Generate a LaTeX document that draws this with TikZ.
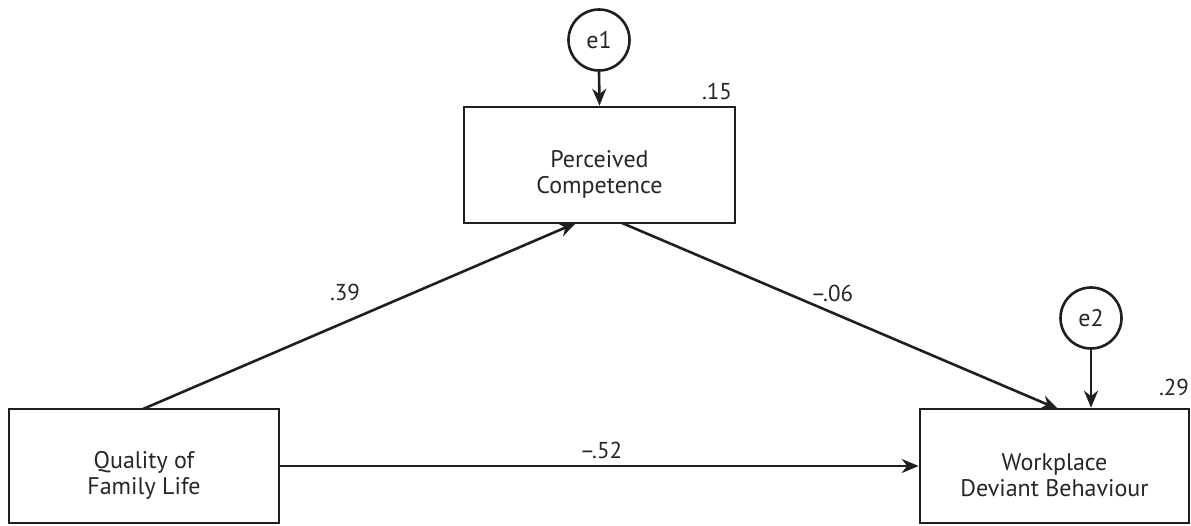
\documentclass[tikz,border=0pt]{standalone}
\usepackage{fontspec}
\setmainfont{PT Sans}
\usetikzlibrary{arrows.meta}
\begin{document}
\begin{tikzpicture}[x=1pt,y=-1pt,
  ink/.style={line width=2.6pt,draw=black!88},
  varbox/.style={ink,rectangle,inner sep=0pt},
  txt/.style={align=center,font=\fontsize{24}{26}\selectfont,text=black!85,inner sep=0pt},
  errc/.style={ink,circle,minimum size=61pt,inner sep=0pt,font=\fontsize{24}{26}\selectfont,text=black!85},
  path/.style={ink,-{Stealth[length=17pt,width=14pt]}},
  lab/.style={font=\fontsize{23}{26}\selectfont,text=black!85,inner sep=0pt}]
\useasboundingbox (0,0) rectangle (1191,525);
\node[varbox,minimum width=271pt,minimum height=116pt] (pc) at (599.5,165) {};
\node[varbox,minimum width=270pt,minimum height=114pt] (qfl) at (144,466) {};
\node[varbox,minimum width=269pt,minimum height=114pt] (wdb) at (1054.5,466) {};
\node[txt] (pct) at (599.5,174) {Perceived\\Competence};
\node[txt] (qflt) at (144,475) {Quality of\\Family Life};
\node[txt] (wdbt) at (1054.5,475) {Workplace\\Deviant Behaviour};
\node[errc] (e1) at (599,40) {e1};
\node[errc] (e2) at (1091,318) {e2};
\coordinate (qt) at (143,409);
\coordinate (pb1) at (576,223);
\coordinate (pb2) at (622,223);
\coordinate (wt1) at (1058,409);
\draw[path] (e1.south) -- (pc.north);
\draw[path] (e2.south) -- (e2.south |- wdb.north);
\draw[path] (qt) -- (pb1);
\draw[path] (pb2) -- (wt1);
\draw[path] (qfl.east) -- (wdb.west);
\node[lab] (l15) at (717,91) {.15};
\node[lab] (l29) at (1174,387) {.29};
\node[lab] (l39) at (345,292) {.39};
\node[lab] (l06) at (832,293) {–.06};
\node[lab] (l52) at (601,450) {–.52};
\end{tikzpicture}
\end{document}
